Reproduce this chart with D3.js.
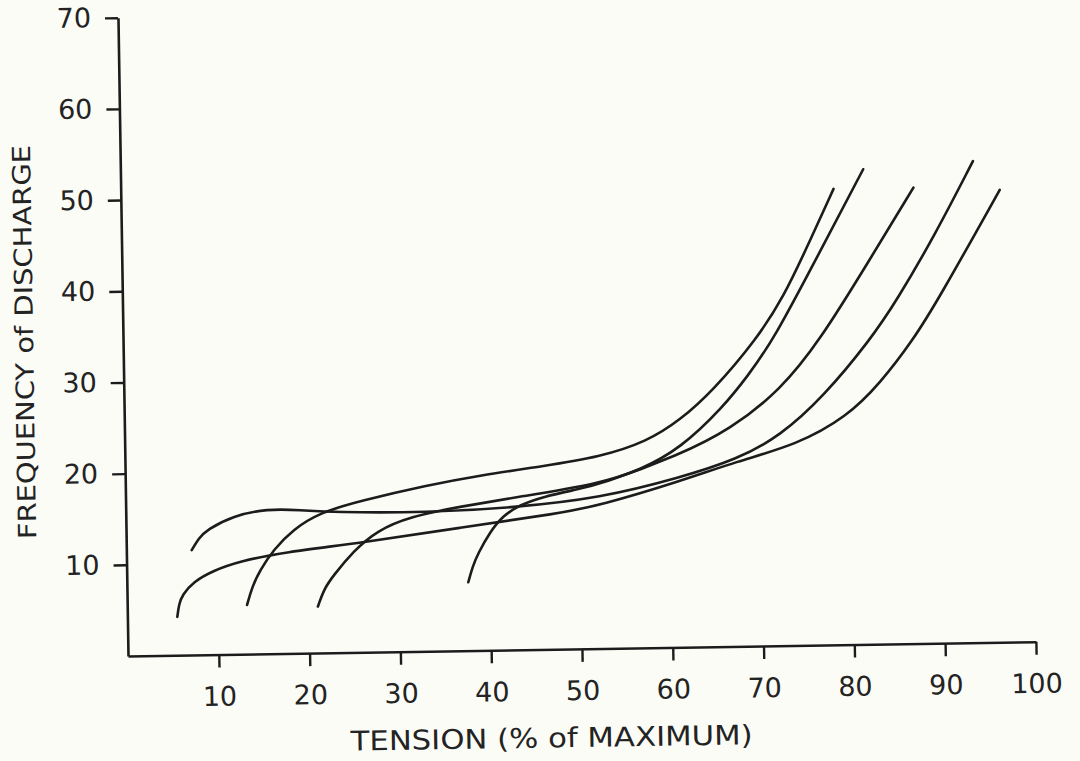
<!DOCTYPE html>
<html>
<head>
<meta charset="utf-8">
<script src="https://cdn.jsdelivr.net/npm/d3@7"></script>
<style>
  html, body { margin: 0; padding: 0; background: #fcfcf7; }
  svg { display: block; }
  text { font-family: "DejaVu Sans", sans-serif; fill: #232323; }
</style>
</head>
<body>
<svg id="chart" width="1080" height="761"></svg>
<script>
// ---- data ----
const xTicks = [10, 20, 30, 40, 50, 60, 70, 80, 90, 100];
const yTicks = [10, 20, 30, 40, 50, 60, 70];
const xTitle = "TENSION (% of MAXIMUM)";
const yTitle = "FREQUENCY of DISCHARGE";

// [tension %, frequency] pairs for each motor-unit curve
const unitA = [[7.2,11.5],[8.0,12.8],[8.9,13.7],[11.8,15.2],[15.6,15.9],[19.2,15.7],[22.8,15.4],[33.2,15.2],[42.7,15.6],[52.3,16.5],[61.1,18.6],[67.4,20.5],[72.2,23.0],[77.0,27.2],[82.3,33.4],[85.3,37.7],[89.6,44.8],[93.9,52.8]];
const unitB = [[5.5,4.2],[5.7,5.6],[6.1,6.6],[7.3,8.0],[9.5,9.2],[12.5,10.2],[17.3,11.1],[25.8,12.0],[36.8,13.5],[47.8,14.9],[52.2,15.7],[61.1,18.2],[67.4,20.3],[74.0,22.0],[79.6,25.0],[83.3,28.6],[87.0,33.3],[89.8,37.6],[96.8,49.6]];
const unitC = [[13.2,5.4],[13.8,7.4],[14.7,9.2],[16.2,11.4],[18.4,13.6],[21.4,15.4],[25.8,16.6],[33.2,18.2],[39.1,19.2],[46.0,20.1],[52.3,21.0],[57.5,22.6],[61.2,24.9],[64.9,28.1],[69.8,33.7],[72.8,38.2],[75.6,43.9],[78.5,50.0]];
const unitD = [[21.0,5.1],[21.7,7.0],[22.7,8.4],[25.0,11.1],[27.6,13.3],[31.3,14.8],[36.8,15.8],[43.5,16.8],[52.3,18.1],[56.7,19.5],[61.2,21.8],[66.0,26.3],[68.7,29.6],[71.6,33.5],[76.7,42.8],[81.8,52.1]];
const unitE = [[37.6,7.5],[38.1,9.2],[38.7,10.6],[40.1,13.0],[41.5,14.7],[43.4,15.9],[46.2,16.8],[49.3,17.4],[52.3,18.0],[61.1,21.1],[66.7,23.8],[72.3,28.0],[76.8,33.5],[82.0,41.6],[87.3,50.0]];
const units = [unitA, unitB, unitC, unitD, unitE];

// ---- layout ----
const svg = d3.select("#chart");
const origin = { x: 128, y: 656 };
const tilt = -0.9; // scanned page is slightly rotated

const x = d3.scaleLinear().domain([0, 100]).range([origin.x, origin.x + 908]);
const y = d3.scaleLinear().domain([0, 70]).range([origin.y, origin.y - 638.4]);

const g = svg.append("g")
  .attr("transform", `rotate(${tilt},${origin.x},${origin.y})`);

const ink = "#1c1c1c";

// x axis
const xAxis = g.append("g")
  .attr("transform", `translate(0,${origin.y})`)
  .call(d3.axisBottom(x).tickValues(xTicks).tickSize(13).tickSizeOuter(0).tickPadding(19));
// y axis
const yAxis = g.append("g")
  .attr("transform", `translate(${origin.x},0)`)
  .call(d3.axisLeft(y).tickValues(yTicks).tickSize(13).tickSizeOuter(0).tickPadding(14));

[xAxis, yAxis].forEach(a => {
  a.select(".domain").attr("stroke", ink).attr("stroke-width", 2.6);
  a.selectAll(".tick line").attr("stroke", ink).attr("stroke-width", 2.4);
  a.selectAll(".tick text")
    .attr("font-size", 27)
    .attr("font-family", "DejaVu Sans, sans-serif")
    .attr("fill", "#232323");
});

// curves
const line = d3.line()
  .x(d => x(d[0]))
  .y(d => y(d[1]))
  .curve(d3.curveBasis);

g.append("g").selectAll("path")
  .data(units)
  .join("path")
  .attr("d", line)
  .attr("fill", "none")
  .attr("stroke", ink)
  .attr("stroke-width", 2.6)
  .attr("stroke-linecap", "round");

// axis titles
g.append("text")
  .attr("x", x(46.5))
  .attr("y", origin.y + 98)
  .attr("text-anchor", "middle")
  .attr("font-size", 27)
  .attr("textLength", 402)
  .attr("lengthAdjust", "spacingAndGlyphs")
  .text(xTitle);

g.append("text")
  .attr("transform", `translate(${origin.x - 90},${y(34.6)}) rotate(-90)`)
  .attr("text-anchor", "middle")
  .attr("font-size", 25)
  .attr("textLength", 394)
  .attr("lengthAdjust", "spacingAndGlyphs")
  .text(yTitle);
</script>
</body>
</html>
